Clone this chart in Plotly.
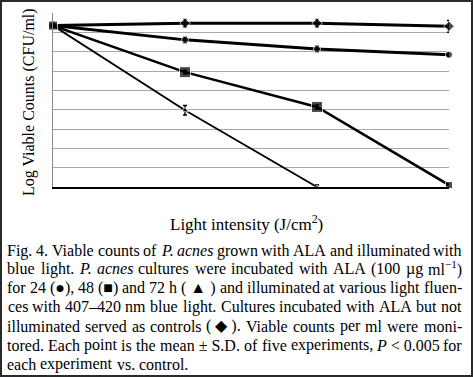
import re
import plotly.graph_objects as go

# ---- data (log CFU/ml; y grid 0..9) ----
fluence_idx = [0, 1, 2, 3]
control_vals = [8.35, 8.47, 8.47, 8.31]
control_err = [0.0, 0.2, 0.2, 0.3]
h24_vals = [8.35, 7.61, 7.14, 6.84]
h24_err = [0.0, 0.15, 0.15, 0.1]
h48_vals = [8.35, 5.94, 4.14, 0.1]
h48_err = [0.0, 0.1, 0.1, 0.0]
h72_x = [0, 1, 2]
h72_vals = [8.35, 3.97, 0.0]
h72_err = [0.0, 0.25, 0.1]

x_title = "Light intensity (J/cm<sup>2</sup>)"
y_title = "Log Viable Counts (CFU/ml)"
# caption, one string per printed line ("|" joins words that stay together)
caption_lines = [
    "Fig. 4. Viable counts of <i>P.</i> <i>acnes</i> grown with ALA and illuminated with",
    "blue light. <i>P.</i> <i>acnes</i> cultures were incubated with ALA (100 µg ml<sup>−1</sup>)",
    "for 24 (●), 48 (■) and 72 h (|▲|) and illuminated at various light fluen-",
    "ces with 407–420 nm blue light. Cultures incubated with ALA but not",
    "illuminated served as controls (|◆|). Viable counts per ml were moni-",
    "tored. Each point is the mean|±|S.D. of five experiments, <i>P</i>|<|0.005 for",
    "each experiment vs. control.",
]

W, H = 473, 377
ML, MR, MT, MB = 53, 24, 13, 190
FONT = "Liberation Serif"
CAP_SIZE = 16
CAP_LEFT, CAP_RIGHT = 7.3, 461.7

# Times-Roman advance widths (1/1000 em) for word placement
_TW = {" ": 250, ".": 250, ",": 250, "(": 333, ")": 333, "-": 333, "/": 278, ":": 278,
       "<": 564, "±": 564, "µ": 500, "–": 500, "−": 564, "●": 604, "■": 604, "▲": 990, "◆": 640}
for c, w in zip("ABCDEFGHIJKLMNOPQRSTUVWXYZ",
                [722, 667, 667, 722, 611, 556, 722, 722, 333, 389, 722, 611, 889, 722, 722, 556, 722,
                 667, 556, 611, 722, 722, 944, 722, 722, 611]):
    _TW[c] = w
for c, w in zip("abcdefghijklmnopqrstuvwxyz",
                [444, 500, 444, 500, 444, 333, 500, 500, 278, 278, 500, 278, 778, 500, 500, 500, 500,
                 333, 389, 278, 500, 500, 722, 500, 500, 444]):
    _TW[c] = w
for c in "0123456789":
    _TW[c] = 500


def word_width(tok, size):
    total = 0.0
    for part in re.split(r"(<sup>.*?</sup>)", tok):
        scale = 0.7 if part.startswith("<sup>") else 1.0
        plain = re.sub(r"<[^>]+>", "", part)
        total += sum(_TW.get(ch, 500) for ch in plain) * scale
    return total * size / 1000.0


fig = go.Figure()


def add(x, y, err, width, symbol, sizes):
    fig.add_trace(go.Scatter(
        x=x, y=y, mode="lines+markers",
        line=dict(color="black", width=width),
        marker=dict(color="black", symbol=symbol, size=sizes),
        error_y=dict(type="data", array=err, visible=True, color="black", thickness=1.5, width=2),
        showlegend=False, cliponaxis=False,
    ))


add(h72_x, h72_vals, h72_err, 1.8, "triangle-up", [6, 6, 4])
add(fluence_idx, control_vals, control_err, 3, "diamond", [8, 8, 8, 8])
add(fluence_idx, h24_vals, h24_err, 3, "circle", [7, 7, 7, 7])
add(fluence_idx, h48_vals, h48_err, 2.5, "square", [9, 11, 11, 7])

fig.update_layout(
    width=W, height=H,
    margin=dict(l=ML, r=MR, t=MT, b=MB),
    paper_bgcolor="white", plot_bgcolor="white",
    font=dict(family=FONT, color="black"),
    xaxis=dict(range=[0, 3], tickvals=[0, 3], showticklabels=False, ticks="",
               showgrid=True, gridcolor="#a8a8a8", gridwidth=1, zeroline=False,
               showline=True, linecolor="black", linewidth=2),
    yaxis=dict(range=[0, 9], tickvals=list(range(10)), showticklabels=False, ticks="",
               showgrid=True, gridcolor="#a8a8a8", gridwidth=1, zeroline=False,
               showline=True, linecolor="#888888", linewidth=1),
)

anns = [
    dict(text=x_title, x=246, y=H - 223, showarrow=False,
         font=dict(size=17, family=FONT, color="black"), xanchor="center", yanchor="middle"),
    dict(text=y_title, x=29, y=H - 102, textangle=-90, showarrow=False,
         font=dict(size=16, family=FONT, color="black"), xanchor="center", yanchor="middle"),
]

line_y = [250.5, 268.5, 287.5, 306.5, 326, 345, 364]
for li, (txt, yy) in enumerate(zip(caption_lines, line_y)):
    words = [w.replace("|", " ") for w in txt.split(" ")]
    widths = [word_width(w, CAP_SIZE) for w in words]
    last = li == len(caption_lines) - 1
    if last or len(words) == 1:
        gap = _TW[" "] * CAP_SIZE / 1000.0
    else:
        gap = (CAP_RIGHT - CAP_LEFT - sum(widths)) / (len(words) - 1)
    x = CAP_LEFT
    for w, ww in zip(words, widths):
        anns.append(dict(text=w, x=x + ww / 2, y=H - yy, showarrow=False,
                         xanchor="center", yanchor="middle", borderpad=0, borderwidth=0,
                         font=dict(size=CAP_SIZE, family=FONT, color="black")))
        x += ww + gap

# convert pixel positions to paper coordinates
pw, ph = W - ML - MR, H - MT - MB
for a in anns:
    a["x"] = (a["x"] - ML) / pw
    a["y"] = (a["y"] - MB) / ph
    a["xref"] = "paper"
    a["yref"] = "paper"
fig.update_layout(annotations=anns)

# outer border of the figure
fig.add_shape(type="rect", xref="paper", yref="paper",
              x0=(1 - ML) / pw, x1=(W - 1 - ML) / pw, y0=(1 - MB) / ph, y1=(H - 1 - MB) / ph,
              line=dict(color="#2a2a2a", width=2), layer="above")

fig.write_html("out.html", config={"displayModeBar": False},
               post_script="document.body.style.margin='0';document.body.style.overflow='hidden';")
